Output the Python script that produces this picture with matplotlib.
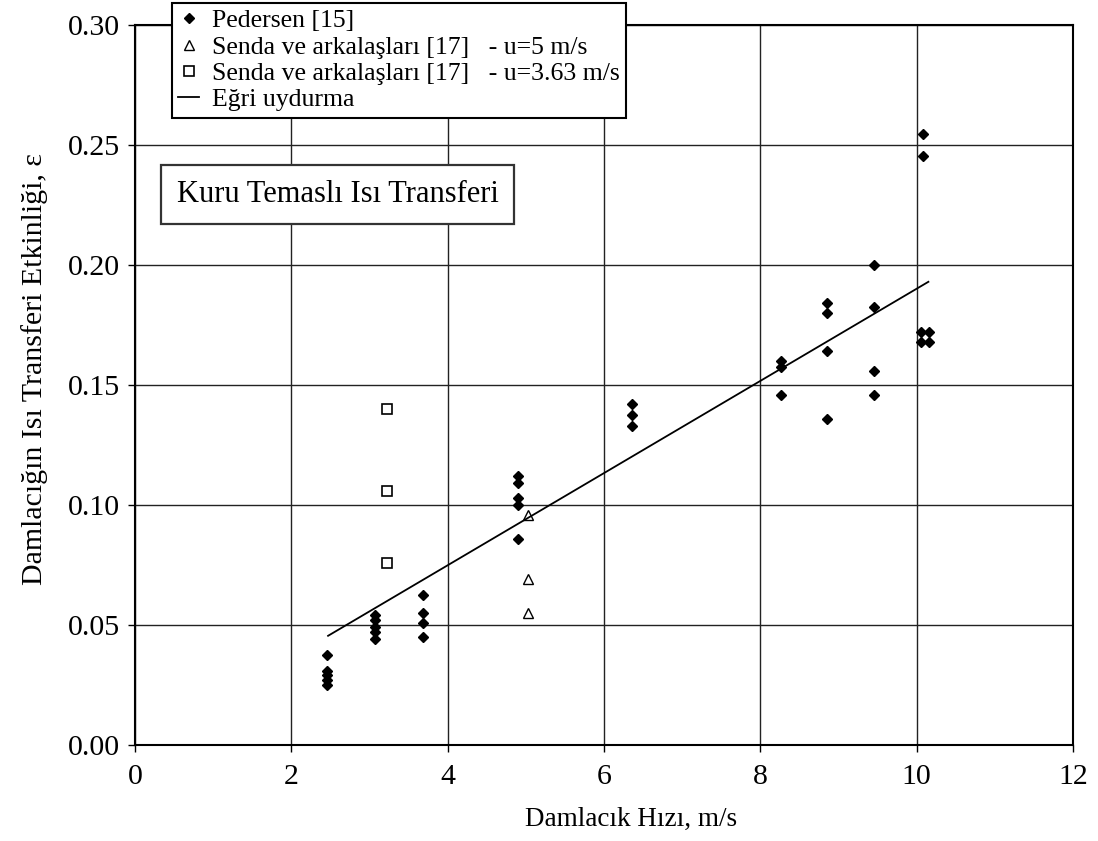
#!/usr/bin/env python3
# coding=utf-8
import matplotlib
matplotlib.use('Agg')
import matplotlib.pyplot as plt

# Pedersen [15]
ped_x = [2.45, 2.45, 2.45, 2.45, 2.45,
         3.07, 3.07, 3.07, 3.07, 3.07,
         3.68, 3.68, 3.68, 3.68,
         4.90, 4.90, 4.90, 4.90, 4.90,
         6.36, 6.36, 6.36,
         8.26, 8.26, 8.26,
         8.85, 8.85, 8.85, 8.85,
         9.46, 9.46, 9.46, 9.46,
         10.06, 10.06, 10.16, 10.16, 10.08, 10.08]
ped_y = [0.0375, 0.031, 0.029, 0.027, 0.025,
         0.054, 0.052, 0.049, 0.047, 0.044,
         0.0625, 0.055, 0.051, 0.045,
         0.112, 0.109, 0.103, 0.100, 0.086,
         0.142, 0.1375, 0.133,
         0.160, 0.1575, 0.146,
         0.184, 0.180, 0.164, 0.136,
         0.200, 0.1825, 0.156, 0.146,
         0.172, 0.168, 0.172, 0.168, 0.2546, 0.2454]

# Senda ve arkalaşları [17] - u=5 m/s
senda5_x = [5.03, 5.03, 5.03]
senda5_y = [0.096, 0.069, 0.055]

# Senda ve arkalaşları [17] - u=3.63 m/s
senda363_x = [3.23, 3.23, 3.23]
senda363_y = [0.140, 0.106, 0.076]

# Eğri uydurma
fit_x = [2.47, 10.15]
fit_y = [0.0455, 0.193]

x_ticks = [0, 2, 4, 6, 8, 10, 12]
y_ticks = [0.00, 0.05, 0.10, 0.15, 0.20, 0.25, 0.30]

plt.rcParams['font.family'] = ['Liberation Serif', 'DejaVu Serif']

fig = plt.figure(figsize=(10.98, 8.41), dpi=100)
ax = fig.add_axes([135 / 1098, 1 - 745 / 841, 938 / 1098, 720 / 841])

ax.grid(True, color='#222222', linewidth=1.0)
ax.set_axisbelow(True)

h1, = ax.plot(ped_x, ped_y, linestyle='none', marker='D', markersize=5.5,
              color='black', label='Pedersen [15]', zorder=3)
h2, = ax.plot(senda5_x, senda5_y, linestyle='none', marker='^', markersize=7,
              markerfacecolor='white', markeredgecolor='black',
              markeredgewidth=1.0,
              label='Senda ve arkalaşları [17]   - u=5 m/s', zorder=3)
h3, = ax.plot(senda363_x, senda363_y, linestyle='none', marker='s',
              markersize=7.5, markerfacecolor='white', markeredgecolor='black',
              markeredgewidth=1.2,
              label='Senda ve arkalaşları [17]   - u=3.63 m/s', zorder=3)
h4, = ax.plot(fit_x, fit_y, color='black', linewidth=1.3,
              label='Eğri uydurma', zorder=3)

ax.set_xlim(0, 12)
ax.set_ylim(0, 0.30)
ax.set_xticks(x_ticks)
ax.set_yticks(y_ticks)
ax.set_yticklabels(['%.2f' % v for v in y_ticks])
ax.tick_params(direction='out', length=5, width=1.0, labelsize=21.5,
               colors='black')
ax.tick_params(axis='x', pad=9)
ax.tick_params(axis='y', pad=6)
for sp in ax.spines.values():
    sp.set_linewidth(1.5)
    sp.set_color('black')

ax.set_xlabel('Damlacık Hızı, m/s', fontsize=19.5, labelpad=12,
              x=(631 - 135) / 938)
ax.set_ylabel('Damlacığın Isı Transferi Etkinliği, ε', fontsize=21.5,
              labelpad=14, y=(745 - 369) / 720)

# legend box extends above the axes
leg = fig.legend(handles=[h1, h2, h3, h4], loc='upper left',
                 bbox_to_anchor=(172 / 1098, 1 - 3 / 841),
                 fontsize=18.5, frameon=True, fancybox=False,
                 edgecolor='black', framealpha=1.0,
                 handlelength=0.8, handletextpad=0.5,
                 borderpad=0.25, labelspacing=0.13, borderaxespad=0.0)
leg.get_frame().set_linewidth(1.5)
leg.set_zorder(10)

# label box
ax.text(2.59, 0.2294, 'Kuru Temaslı Isı Transferi', fontsize=22,
        ha='center', va='center', zorder=6,
        bbox=dict(boxstyle='square,pad=0.5', facecolor='white',
                  edgecolor='#333333', linewidth=1.6))

fig.savefig('out.png', dpi=100, facecolor='white')
